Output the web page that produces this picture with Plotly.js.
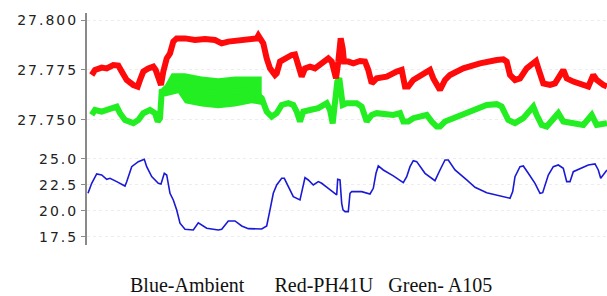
<!DOCTYPE html>
<html><head><meta charset="utf-8">
<script src="https://cdn.plot.ly/plotly-3.0.1.min.js"></script>
<style>html,body{margin:0;padding:0;background:#fff;}#chart{width:607px;height:296px;}
.ytick text, .y2tick text {letter-spacing: 2px;}</style>
</head><body><div id="chart"></div>
<script>
// Red - PH41U
const redX = [4.7,8,14.7,19.7,26.3,31.3,34.7,39.7,46.3,50.7,53,56.3,61.3,66.3,68.7,72,74,76.3,79.7,83,86.3,89.7,98,108,118,128,134.7,141.3,151.3,161.3,169.7,171.3,174.7,176.3,179.7,183,188,189.7,193,198,204.7,208,210.3,214.7,218,223,228,234.7,241.3,244.7,249,251.3,253.7,255.7,257,261.3,266.3,273,278,281.3,284.7,289.7,299.7,309.7,314.7,318,321.3,326.3,336.3,343,346.3,353,358,363,376.3,393,409.7,416.3,419.7,423,428,433,439.7,449,451.3,456.3,463,468,476.3,479.7,486.3,496.3,501.3,506.3,509.7,516.3,520];
const redY = [27.7725,27.775,27.7762,27.7758,27.7775,27.7772,27.7742,27.770,27.7675,27.7667,27.770,27.7742,27.7758,27.7767,27.775,27.7708,27.7675,27.7742,27.7808,27.7833,27.7892,27.7908,27.7908,27.790,27.7905,27.790,27.7883,27.7892,27.790,27.7905,27.7908,27.7922,27.7883,27.7883,27.7808,27.7758,27.7725,27.7733,27.7792,27.7808,27.7825,27.7828,27.7792,27.7717,27.7758,27.7767,27.7758,27.7783,27.7808,27.7792,27.7708,27.7792,27.7908,27.7858,27.7792,27.7792,27.7783,27.7795,27.7792,27.775,27.7683,27.7708,27.7717,27.7742,27.775,27.7667,27.7667,27.770,27.7725,27.775,27.7708,27.765,27.770,27.7725,27.7758,27.7783,27.780,27.7803,27.7792,27.7725,27.770,27.7708,27.7758,27.7795,27.7758,27.7683,27.7675,27.7683,27.775,27.7708,27.7692,27.7675,27.7667,27.7725,27.770,27.7675,27.7667];

// Green - A105
const greenX = [4.7,8,14.7,23,29.7,33,38,46.3,51.3,56.3,63,68,70.7,73,74.7,78,84.7,91.3,98,114.7,131.3,148,164.7,174.7,179.7,184.7,189.7,194.7,201.3,206.3,209.7,213,216.3,223,231.3,239.7,243,245.7,248,250.3,252.3,253.7,255.7,259.7,269.7,274.7,279.7,284.7,289.7,306.3,313,316.3,321.3,326.3,339.7,344.7,349.7,353,358,366.3,376.3,393,399.7,409.7,414.7,421.3,428,436.3,446.3,449.7,454.7,459.7,471.3,476.3,486.3,496.3,504.7,509.7,520];
const greenY = [27.7525,27.755,27.7542,27.7559,27.7567,27.7534,27.750,27.7484,27.750,27.7534,27.755,27.7534,27.7492,27.7509,27.7642,27.7646,27.768,27.7684,27.7659,27.7642,27.7634,27.7642,27.765,27.7609,27.7542,27.7517,27.7534,27.7575,27.7584,27.7575,27.7542,27.7492,27.7542,27.755,27.7559,27.7584,27.755,27.7483,27.7625,27.7692,27.7709,27.7625,27.7575,27.7584,27.7584,27.7567,27.7492,27.7525,27.7534,27.7525,27.7534,27.7492,27.7492,27.7509,27.7525,27.7492,27.7467,27.7467,27.7492,27.7509,27.7529,27.7559,27.7575,27.7579,27.7567,27.750,27.7484,27.7509,27.7567,27.7525,27.7475,27.7467,27.7534,27.7492,27.7484,27.7475,27.7525,27.7475,27.7484];

// Green noisy band (upper / lower envelope)
const bandX  = [74.7,78,84.7,91.3,98,114.7,131.3,148,164.7,174.7];
const bandHi = [27.766,27.7675,27.7734,27.7734,27.7734,27.7717,27.7709,27.7717,27.7717,27.7717];
const bandLo = [27.7625,27.7617,27.7625,27.7634,27.7584,27.7567,27.7559,27.7567,27.7584,27.7575];

// Blue - Ambient
const blueX = [1,4.7,9.7,14.7,19.7,23,29.7,38,39.7,44.7,51.3,57.3,59.7,64.7,71.3,74,77.3,79.7,83,86.3,89.7,93,98,106.3,111.3,114.7,119.7,131.3,134.7,141.3,148,154.7,161.3,174.7,179.7,183,186.3,189.7,194.7,197.3,201.3,206.3,213,218,221.3,226.3,231.3,234.7,241.3,249.7,250.7,253,254.7,256,258,261.3,263,264.7,274.7,283,286.3,289,291.3,296.3,306.3,316.3,319.7,323,326.3,329.7,338,348,353,358,361.3,368,379.7,388,399.7,413,423,425.7,428,433,436.3,441.3,448,453,455.7,461.3,466.3,471.3,476.3,479.7,483,486.3,493,501.3,508,511.3,513.7,518,520];
const blueY = [21.7,22.66,23.56,23.46,23.05,23.14,22.82,22.4,22.8,24.26,24.74,24.97,24.26,23.3,22.66,22.6,23.62,23.46,21.7,21.06,20.1,18.82,18.24,18.17,18.87,18.65,18.34,18.17,18.24,19.04,19.04,18.56,18.3,18.27,18.56,20.1,21.7,22.5,23.14,23.14,22.34,21.38,21.06,23.2,22.98,22.5,22.82,22.66,22.18,21.54,23.05,22.98,20.74,20.1,19.94,19.94,21.7,21.86,21.86,21.63,22.18,23.62,24.33,23.94,23.37,22.72,23.3,24.26,24.84,24.74,23.62,22.91,23.94,24.9,24.9,23.94,22.98,22.28,21.76,21.44,21.22,21.86,23.3,24.26,24.33,23.62,22.66,21.7,21.76,23.46,24.26,24.42,24.1,22.82,22.82,23.78,24.1,24.42,24.52,23.94,23.14,23.62,23.94];

const topTicks = [27.750, 27.775, 27.800];
const bottomTicks = [17.5, 20.0, 22.5, 25.0];
const caption = 'Blue-Ambient&nbsp;&nbsp;&nbsp;&nbsp;&nbsp;&nbsp;Red-PH41U&nbsp;&nbsp;&nbsp;Green- A105';

const traces = [
  {x: bandX.concat(bandX.slice().reverse()), y: bandHi.concat(bandLo.slice().reverse()),
   fill: 'toself', fillcolor: '#22ee22', line: {width: 0}, mode: 'lines',
   xaxis: 'x', yaxis: 'y', hoverinfo: 'skip'},
  {x: greenX, y: greenY, mode: 'lines', line: {color: '#22ee22', width: 6}, xaxis: 'x', yaxis: 'y'},
  {x: redX, y: redY, mode: 'lines', line: {color: '#ff0a0a', width: 6}, xaxis: 'x', yaxis: 'y'},
  {x: blueX, y: blueY, mode: 'lines', line: {color: '#1a1ad6', width: 1.6}, xaxis: 'x2', yaxis: 'y2'}
];

const axFont = {family: 'DejaVu Sans, Verdana, sans-serif', size: 14, color: '#222'};
const layout = {
  width: 607, height: 296,
  margin: {l: 87, r: 0, t: 13, b: 51},
  paper_bgcolor: '#fff', plot_bgcolor: '#fff',
  showlegend: false,
  xaxis: {range: [0, 520], visible: false, domain: [0, 1], anchor: 'y'},
  xaxis2: {range: [0, 520], visible: false, domain: [0, 1], anchor: 'y2'},
  yaxis: {domain: [0.47, 1], range: [27.742, 27.8035], tickvals: topTicks, tickformat: '.3f',
          showline: true, linecolor: '#8a8a8a', linewidth: 2, ticks: 'outside', ticklen: 4,
          tickcolor: '#8a8a8a', showgrid: true, gridcolor: '#ededed', griddash: 'dot',
          zeroline: false, tickfont: axFont, anchor: 'x'},
  yaxis2: {domain: [0, 0.47], range: [16.73, 27.21], tickvals: bottomTicks, tickformat: '.1f',
          showline: true, linecolor: '#8a8a8a', linewidth: 2, ticks: 'outside', ticklen: 4,
          tickcolor: '#8a8a8a', showgrid: true, gridcolor: '#ededed', griddash: 'dot',
          zeroline: false, tickfont: axFont, anchor: 'x2'},
  annotations: [{text: caption, xref: 'paper', yref: 'paper', x: 0.43, y: -0.172,
    xanchor: 'center', yanchor: 'middle', showarrow: false,
    font: {family: 'Liberation Serif, Times New Roman, serif', size: 20, color: '#111'}}]
};
Plotly.newPlot('chart', traces, layout, {staticPlot: true, displayModeBar: false});
</script></body></html>
